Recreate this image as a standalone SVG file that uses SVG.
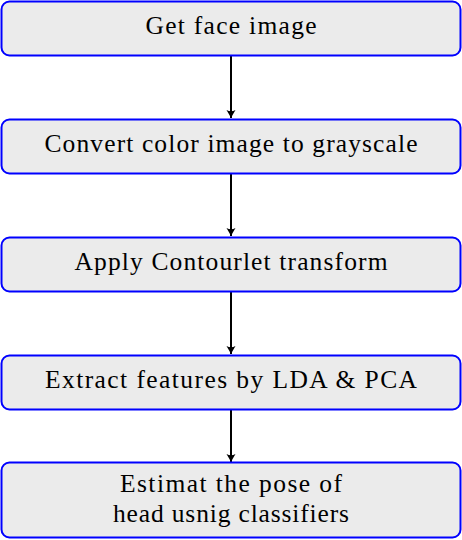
<svg xmlns="http://www.w3.org/2000/svg" width="462" height="540" viewBox="0 0 462 540">
<style>
.box{fill:#EBEBEB;stroke:#0000FF;stroke-width:2}
.t{font-family:"Liberation Serif","DejaVu Serif",serif;font-size:25.5px;fill:#000;text-anchor:middle}
.c{stroke:#000;stroke-width:2;fill:none}
</style>
<defs>
<marker id="ah" markerWidth="12" markerHeight="12" refX="9" refY="6" orient="auto" markerUnits="userSpaceOnUse">
<path d="M1,1.5 Q6,4.5 9,6 Q6,7.5 1,10.5 Q3.5,6 1,1.5 Z" fill="#000"/>
</marker>
</defs>
<g id="connectors">
<line class="c" x1="231" y1="56" x2="231" y2="118" marker-end="url(#ah)"/>
<line class="c" x1="231" y1="174" x2="231" y2="236" marker-end="url(#ah)"/>
<line class="c" x1="231" y1="292" x2="231" y2="354" marker-end="url(#ah)"/>
<line class="c" x1="231" y1="410" x2="231" y2="462" marker-end="url(#ah)"/>
</g>
<g id="n1"><rect class="box" x="1.5" y="1.5" width="459" height="54" rx="8"/><text class="t" x="231" y="34" textLength="171" lengthAdjust="spacing">Get face image</text></g>
<g id="n2"><rect class="box" x="1.5" y="119.5" width="459" height="54" rx="8"/><text class="t" x="231" y="152" textLength="373" lengthAdjust="spacing">Convert color image to grayscale</text></g>
<g id="n3"><rect class="box" x="1.5" y="237.5" width="459" height="54" rx="8"/><text class="t" x="231" y="270" textLength="313" lengthAdjust="spacing">Apply Contourlet transform</text></g>
<g id="n4"><rect class="box" x="1.5" y="355.5" width="459" height="54" rx="8"/><text class="t" x="231" y="388" textLength="372" lengthAdjust="spacing">Extract features by LDA &amp; PCA</text></g>
<g id="n5"><rect class="box" x="1.5" y="462.5" width="459" height="75" rx="8"/><text class="t" x="231" y="492" textLength="222" lengthAdjust="spacing">Estimat the pose of</text><text class="t" x="231" y="522" textLength="236" lengthAdjust="spacing">head usnig classifiers</text></g>
</svg>
